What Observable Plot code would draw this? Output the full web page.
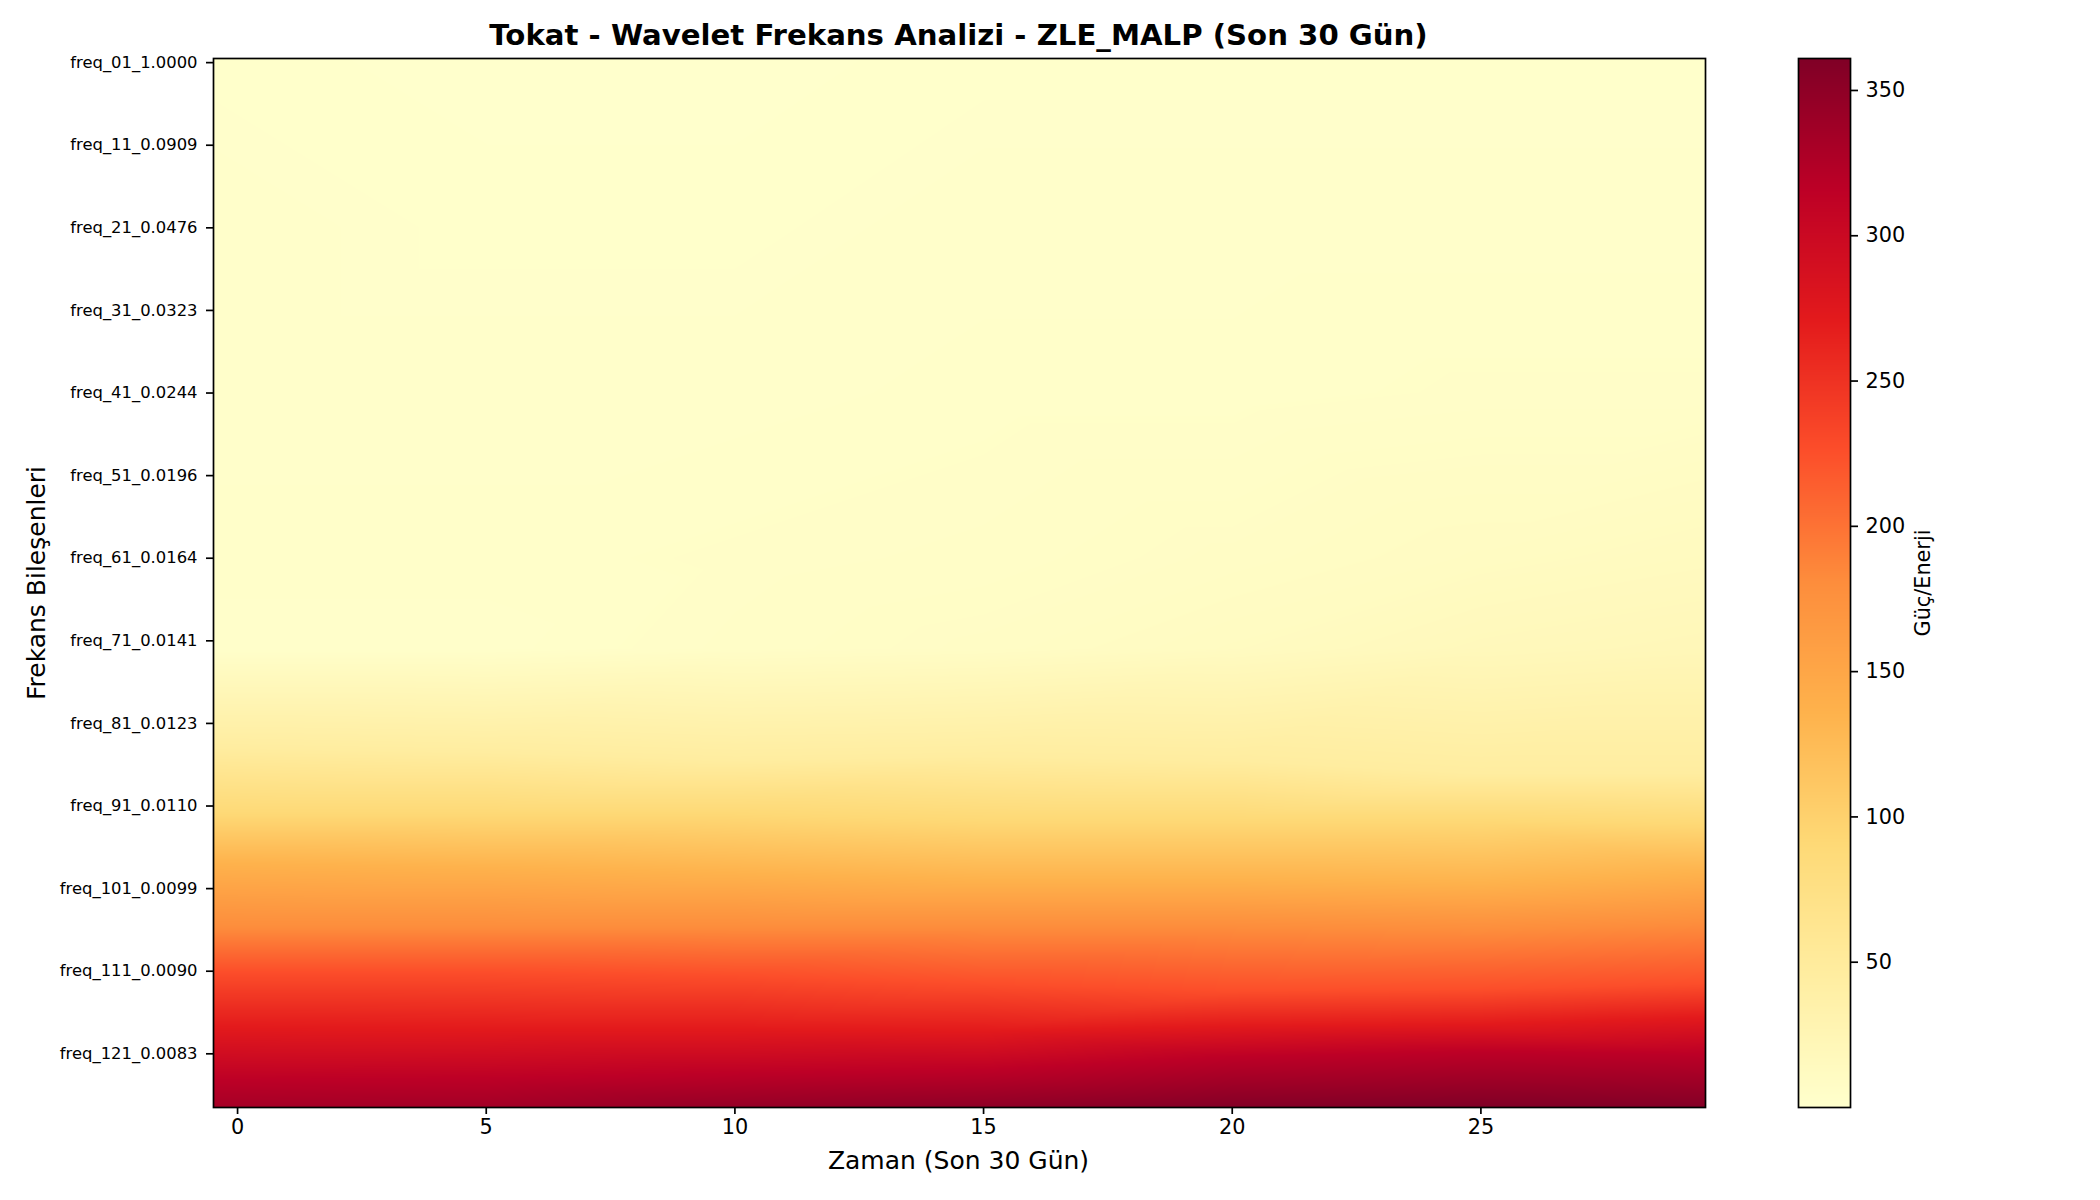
<!DOCTYPE html>
<html><head><meta charset="utf-8">
<script src="https://cdn.jsdelivr.net/npm/d3@7"></script>
<script src="https://cdn.jsdelivr.net/npm/@observablehq/plot@0.6"></script>
<style>html,body{margin:0;padding:0;background:#fff}#c{position:relative;width:2100px;height:1200px}#c svg{position:absolute;left:0;top:0;background:transparent}</style>
</head><body><div id="c"></div>
<script>
const titleText = "Tokat - Wavelet Frekans Analizi - ZLE_MALP (Son 30 Gün)";
const xLabel = "Zaman (Son 30 Gün)";
const yLabel = "Frekans Bileşenleri";
const barLabel = "Güç/Enerji";
const freqLabels = ["freq_01_1.0000","freq_11_0.0909","freq_21_0.0476","freq_31_0.0323","freq_41_0.0244","freq_51_0.0196","freq_61_0.0164","freq_71_0.0141","freq_81_0.0123","freq_91_0.0110","freq_101_0.0099","freq_111_0.0090","freq_121_0.0083"];
const freqTicks = [0,10,20,30,40,50,60,70,80,90,100,110,120];
const xTicks = [0,5,10,15,20,25];
const barTicks = [50,100,150,200,250,300,350];
const days = [-0.5,5,10,15,20,25,29.5];
// power read at fixed frequency rows (upper, pale part)
const upperRows = [-0.5,20,40,60,71];
const upperValues = [
  [2,1,1,2,2,2,2],
  [3,2,2,3,3,3,3],
  [3,3,3,4,4,5,5],
  [4,4,5,6,8,11,14],
  [3,3,6,8,12,18,21]
];
// row at which each power level is crossed (lower part)
const levels = [46,91,136,181,226,271,316];
const levelRows = [
  [82.9,83.5,84.5,84,84.5,86.1,86.1],
  [91,91,91,91.8,91.8,91.8,92.2],
  [97,97.5,98.2,99,99,99.4,98.2],
  [104.7,104.7,104.7,104.7,104.7,105.1,104.3],
  [110.1,110.1,110.5,111.5,112.4,112.2,111.5],
  [116.8,117,117,117.2,116.6,116.4,115.6],
  [123.2,123,122.4,122,120.4,119.8,120]
];
const bottomRow = 126.5;
const bottomValues = [333,335,345,350,358,361,358];
const colorStops = [1,46,91,136,181,226,271,316,361];
const colorRange = ["#ffffcc","#ffeda0","#fed976","#feb24c","#fd8d3c","#fc4e2a","#e31a1c","#bd0026","#800026"];

const samples = [];
upperRows.forEach((r,i)=>days.forEach((d,j)=>samples.push({d,r,v:upperValues[i][j]})));
levels.forEach((v,i)=>days.forEach((d,j)=>samples.push({d,r:levelRows[i][j],v})));
days.forEach((d,j)=>samples.push({d,r:bottomRow,v:bottomValues[j]}));

const color = {type:"linear",domain:colorStops,range:colorRange,interpolate:"rgb",clamp:true};
const font = "DejaVu Sans";
const common = {width:2100,height:1200,marginTop:58,marginBottom:93,color,style:{fontFamily:font,background:"transparent",overflow:"visible",color:"#000"}};

const main = Plot.plot({...common,marginLeft:213,marginRight:395,
  x:{domain:[-0.5,29.5]},
  y:{domain:[126.5,-0.5]},
  marks:[
    Plot.raster(samples,{x:"d",y:"r",fill:"v",interpolate:"barycentric",pixelSize:1,x1:-0.5,x2:29.5,y1:-0.5,y2:126.5}),
    Plot.frame({stroke:"#000",strokeWidth:1.7}),
    Plot.axisX({ticks:xTicks,tickSize:7,strokeWidth:1.7,stroke:"#000",fontSize:20.8,tickPadding:5,label:null,fill:"#000",dx:-0.8}),
    Plot.axisY({ticks:freqTicks,tickFormat:(d)=>freqLabels[freqTicks.indexOf(d)],tickSize:7,strokeWidth:1.7,stroke:"#000",fontSize:16.4,tickPadding:9,label:null,fill:"#000"}),
    Plot.text([titleText],{text:d=>d,frameAnchor:"top",dx:-1,dy:-23,fontSize:29.2,fontWeight:"bold",fill:"#000",lineAnchor:"middle"}),
    Plot.text([xLabel],{text:d=>d,frameAnchor:"bottom",dx:-1,dy:53,fontSize:25,fill:"#000",lineAnchor:"middle"}),
    Plot.text([yLabel],{text:d=>d,frameAnchor:"left",textAnchor:"middle",dx:-177,rotate:-90,fontSize:25,fill:"#000"})
  ]});
document.getElementById("c").appendChild(main);

const bar = Plot.plot({...common,marginLeft:1798,marginRight:250,
  x:{domain:[0,1],axis:null},
  y:{domain:[0,361]},
  marks:[
    Plot.raster({x1:0,x2:1,y1:0,y2:361,fill:(x,y)=>y,pixelSize:1}),
    Plot.frame({stroke:"#000",strokeWidth:1.7}),
    Plot.axisY({anchor:"right",ticks:barTicks,tickFormat:d=>String(d),tickSize:7,strokeWidth:1.7,stroke:"#000",fontSize:20.8,tickPadding:8,label:null,fill:"#000"}),
    Plot.text([barLabel],{text:d=>d,frameAnchor:"right",textAnchor:"middle",dx:73,rotate:-90,fontSize:20.8,fill:"#000"})
  ]});
document.getElementById("c").appendChild(bar);
</script></body></html>
